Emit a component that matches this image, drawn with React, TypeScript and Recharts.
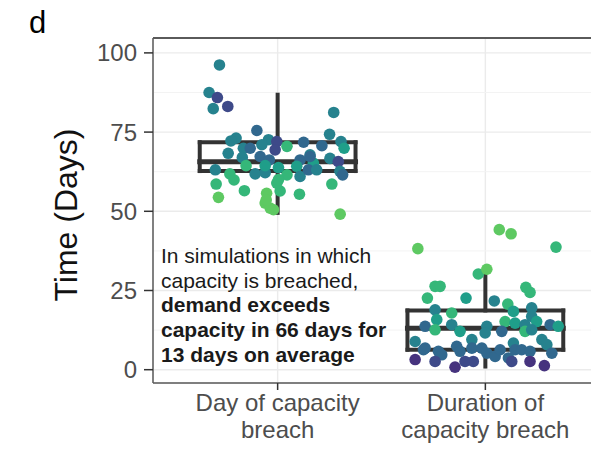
import React from 'react';
import {
  ComposedChart,
  Scatter,
  XAxis,
  YAxis,
  CartesianGrid,
  ReferenceArea,
  ReferenceLine,
} from 'recharts';

const FONT = '"Liberation Sans", Arial, Helvetica, sans-serif';

// categories (x = 1, 2)
const categories = ['Day of capacity breach', 'Duration of capacity breach'];
const categoryLines = [
  ['Day of capacity', 'breach'],
  ['Duration of', 'capacity breach'],
];

// box statistics
const whiskerLow = [49.5, 1.0];
const q1 = [62.7, 6.3];
const median = [65.6, 13.1];
const q3 = [71.8, 18.7];
const whiskerHigh = [86.8, 30.3];

// colour scale levels (viridis-like, low -> high)
const shades = ['#46337e', '#3e4a89', '#31688e', '#26828e', '#1f9e89', '#35b779', '#5ec962'];

// group 1: day of capacity breach
const dayValues = [
  96.2, 87.5, 85.9, 82.4, 83.1, 81.2, 75.5, 74.3, 73.1, 72.2, 72.6, 72.0, 70.5, 71.8, 70.7,
  72.0, 69.9, 69.9, 69.9, 71.0, 69.4, 68.3, 67.3, 67.0, 66.2, 66.2, 67.8, 65.2, 66.7, 65.7,
  63.1, 61.8, 59.9, 64.4, 61.8, 62.2, 64.4, 63.8, 61.5, 64.2, 61.0, 63.1, 63.1, 62.6, 61.5,
  58.6, 54.4, 56.5, 55.7, 52.6, 51.0, 50.5, 56.4, 58.9, 55.4, 58.6, 49.1, 60.0, 67.3, 53.6,
];
const dayJitter = [
  -0.28, -0.33, -0.29, -0.31, -0.24, 0.27, -0.1, 0.25, -0.2, -0.225, -0.044, -0.004, 0.045, 0.125, 0.213,
  0.305, 0.32, -0.165, -0.132, -0.076, -0.012, -0.238, -0.084, -0.17, -0.04, 0.108, 0.156, 0.172, 0.252, 0.292,
  -0.3, -0.23, -0.21, -0.152, -0.108, -0.06, -0.06, 0.004, 0.045, 0.092, 0.108, 0.148, 0.188, 0.3, 0.313,
  -0.296, -0.285, -0.16, -0.053, -0.06, -0.036, -0.02, 0.012, -0.004, 0.105, 0.261, 0.301, 0.004, 0.156, -0.055,
];
const dayShade = [
  3, 3, 1, 3, 1, 3, 2, 3, 3, 3, 3, 1, 5, 2, 2,
  3, 4, 3, 2, 3, 1, 3, 2, 3, 2, 2, 3, 4, 3, 1,
  3, 5, 5, 5, 3, 3, 4, 4, 5, 4, 3, 2, 3, 3, 2,
  5, 6, 5, 6, 6, 6, 6, 5, 5, 5, 5, 6, 5, 2, 6,
];

// group 2: duration of capacity breach
const durationValues = [
  38.2, 44.2, 42.9, 38.7, 30.2, 31.7, 26.3, 26.3, 22.6, 22.6, 26.0, 24.4, 21.7, 20.7,
  18.9, 17.9, 18.4, 19.5, 15.2, 14.7, 16.8, 15.2, 15.8, 13.7, 12.6, 14.2, 12.1, 13.7, 11.6,
  12.1, 14.2, 12.1, 12.6, 14.2, 13.7, 8.9, 6.8, 5.8, 4.7, 7.4, 5.8, 9.5, 6.8, 6.8,
  5.2, 4.2, 6.3, 3.7, 8.4, 6.3, 6.3, 5.8, 9.5, 7.9, 5.2, 3.2, 2.6, 0.8, 2.6,
  2.6, 2.6, 1.3, 2.6, 6.3,
];
const durationJitter = [
  -0.325, 0.067, 0.124, 0.34, -0.034, 0.007, -0.242, -0.218, -0.279, -0.093, 0.195, 0.215, 0.043, 0.108,
  -0.242, -0.162, 0.135, 0.223, 0.095, 0.143, 0.223, 0.247, -0.234, -0.29, -0.242, -0.162, -0.122, 0.007, -0.001,
  0.079, 0.191, 0.191, 0.223, 0.312, 0.351, -0.338, -0.29, -0.226, -0.21, -0.138, -0.122, -0.065, -0.065, -0.017,
  0.007, 0.047, 0.071, 0.111, 0.135, 0.143, 0.175, 0.215, 0.272, 0.296, 0.32, -0.338, -0.242, -0.146, -0.098,
  0.127, 0.215, 0.284, -0.058, -0.298,
];
const durationShade = [
  6, 6, 6, 5, 5, 6, 5, 5, 5, 4, 5, 5, 3, 5,
  3, 5, 4, 3, 5, 4, 3, 4, 4, 2, 5, 3, 4, 3, 3,
  2, 3, 5, 3, 2, 4, 3, 2, 2, 2, 2, 2, 3, 2, 2,
  2, 2, 2, 2, 3, 2, 2, 2, 3, 3, 2, 0, 1, 0, 1,
  1, 0, 0, 1, 2,
];

const yTicks = [0, 25, 50, 75, 100];
const yMinor = [12.5, 37.5, 62.5, 87.5];

const points = [
  ...dayValues.map((v, i) => ({ x: 1 + dayJitter[i], y: v, s: dayShade[i] })),
  ...durationValues.map((v, i) => ({ x: 2 + durationJitter[i], y: v, s: durationShade[i] })),
];

const BOX_HALF = 0.375;
const INK = '#333333';

const XTick = (props: any) => {
  const { x, y, payload } = props;
  const lines = categoryLines[Math.round(payload.value) - 1] || [];
  return (
    <text x={x} y={y} textAnchor="middle" fill="#4d4d4d" fontSize={24} fontFamily={FONT}>
      {lines.map((l, i) => (
        <tspan key={i} x={x} dy={i === 0 ? 21 : 27}>
          {l}
        </tspan>
      ))}
    </text>
  );
};

const Dot = (props: any) => {
  const { cx, cy, payload } = props;
  return <circle cx={cx} cy={cy} r={5.8} fill={shades[payload.s]} />;
};

// box outline as segments so it sits above the minor grid lines
const boxSegments = categories.flatMap((c, i) => {
  const l = i + 1 - BOX_HALF;
  const r = i + 1 + BOX_HALF;
  return [
    { key: c + 'lo', w: 4, seg: [{ x: i + 1, y: whiskerLow[i] }, { x: i + 1, y: q1[i] }] },
    { key: c + 'hi', w: 4, seg: [{ x: i + 1, y: q3[i] }, { x: i + 1, y: whiskerHigh[i] }] },
    { key: c + 'b', w: 4, seg: [{ x: l, y: q1[i] }, { x: r, y: q1[i] }] },
    { key: c + 't', w: 4, seg: [{ x: l, y: q3[i] }, { x: r, y: q3[i] }] },
    { key: c + 'l', w: 4, seg: [{ x: l, y: q1[i] }, { x: l, y: q3[i] }] },
    { key: c + 'r', w: 4, seg: [{ x: r, y: q1[i] }, { x: r, y: q3[i] }] },
    { key: c + 'm', w: 5, seg: [{ x: l, y: median[i] }, { x: r, y: median[i] }] },
  ];
});

const App: React.FC = () => {
  return (
    <div style={{ position: 'absolute', left: 0, top: 0, width: 591, height: 449, overflow: 'hidden', background: '#fff' }}>
      <ComposedChart width={620} height={449} margin={{ top: 38, right: 10, bottom: 0, left: 0 }}>
        <CartesianGrid stroke="#ebebeb" strokeWidth={1.4} />
        <XAxis
          type="number"
          dataKey="x"
          domain={[0.4, 2.6]}
          ticks={[1, 2]}
          allowDataOverflow
          height={66}
          tickSize={7}
          tickMargin={0}
          tick={<XTick />}
          tickLine={{ stroke: INK, strokeWidth: 1.5 }}
          axisLine={{ stroke: '#5a5a5a', strokeWidth: 1.5 }}
        />
        <YAxis
          type="number"
          dataKey="y"
          domain={[-4.2, 104.7]}
          ticks={yTicks}
          allowDataOverflow
          width={153}
          tickSize={9}
          tickMargin={7}
          tick={{ fill: '#4d4d4d', fontSize: 24, fontFamily: FONT }}
          tickLine={{ stroke: INK, strokeWidth: 1.5 }}
          axisLine={{ stroke: '#5a5a5a', strokeWidth: 1.5 }}
        />
        {categories.map((c, i) => (
          <ReferenceArea
            key={c + 'box'}
            x1={i + 1 - BOX_HALF}
            x2={i + 1 + BOX_HALF}
            y1={q1[i]}
            y2={q3[i]}
            fill="#ffffff"
            fillOpacity={1}
            stroke="none"
          />
        ))}
        {yMinor.map(v => (
          <ReferenceLine key={v} y={v} stroke="#f3f3f3" strokeWidth={1} />
        ))}
        <ReferenceLine y={104.7} stroke="#5a5a5a" strokeWidth={2} />
        {boxSegments.map(b => (
          <ReferenceLine key={b.key} segment={b.seg} stroke={INK} strokeWidth={b.w} strokeLinecap="square" />
        ))}
        <Scatter data={points} shape={<Dot />} isAnimationActive={false} />
      </ComposedChart>
      <svg width={591} height={449} style={{ position: 'absolute', left: 0, top: 0, pointerEvents: 'none' }}>
        <text x={29} y={33} fontSize={31} fontFamily={FONT} fill="#000">d</text>
        <text
          x={66}
          y={215}
          transform="rotate(-90 66 215)"
          textAnchor="middle"
          dominantBaseline="central"
          fontSize={32}
          fontFamily={FONT}
          fill="#111"
        >
          Time (Days)
        </text>
        <g fontSize={21} fontFamily={FONT} fill="#1a1a1a">
          <text x={161} y={263}>In simulations in which</text>
          <text x={161} y={287.5}>capacity is breached,</text>
          <text x={161} y={312} fontWeight="bold">demand exceeds</text>
          <text x={161} y={337} fontWeight="bold">capacity in 66 days for</text>
          <text x={161} y={362} fontWeight="bold">13 days on average</text>
        </g>
      </svg>
    </div>
  );
};

export default App;
